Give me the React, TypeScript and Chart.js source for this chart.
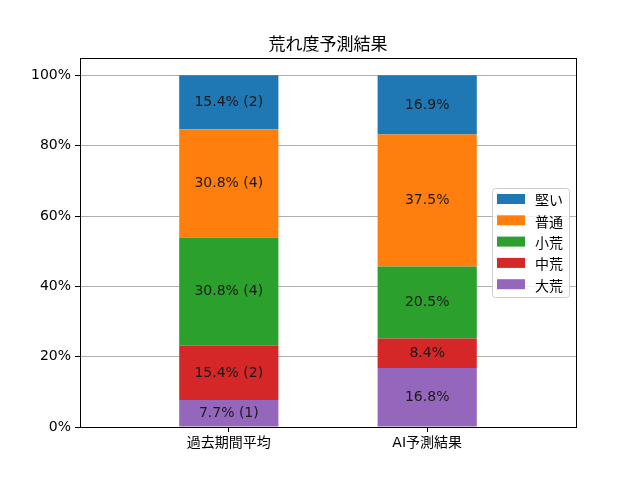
import { Chart, registerables } from 'chart.js';
import { useEffect, useRef } from 'react';

Chart.register(...registerables);

const categories = ['過去期間平均', 'AI予測結果'];
const seriesNames = ['大荒', '中荒', '小荒', '普通', '堅い'];
const seriesColors = ['#9467bd', '#d62728', '#2ca02c', '#ff7f0e', '#1f77b4'];
// percent values per series, [past, AI]
const daiare = [7.7, 16.8];
const chuare = [15.4, 8.4];
const shoare = [30.8, 20.5];
const futsu = [30.8, 37.5];
const katai = [15.4, 16.9];
const seriesValues = [daiare, chuare, shoare, futsu, katai];
const segmentLabels = [
    ['7.7% (1)', '16.8%'],
    ['15.4% (2)', '8.4%'],
    ['30.8% (4)', '20.5%'],
    ['30.8% (4)', '37.5%'],
    ['15.4% (2)', '16.9%'],
];
const yTicks = [0, 20, 40, 60, 80, 100];
const title = '荒れ度予測結果';

const FONT = '"DejaVu Sans", "Noto Sans CJK JP", sans-serif';

const framePlugin = {
    id: 'frame',
    afterDatasetsDraw(chart: Chart) {
        const ctx = chart.ctx;
        // segment labels
        ctx.save();
        ctx.font = `14px ${FONT}`;
        ctx.fillStyle = '#1a1a1a';
        ctx.textAlign = 'center';
        ctx.textBaseline = 'middle';
        chart.data.datasets.forEach((_, di) => {
            const meta = chart.getDatasetMeta(di);
            meta.data.forEach((el: any, i: number) => {
                const y = (el.y + el.base) / 2;
                ctx.fillText(segmentLabels[di][i], el.x, y);
            });
        });
        ctx.restore();
    },
    afterDraw(chart: Chart) {
        const ctx = chart.ctx;
        const a = chart.chartArea;
        ctx.save();
        // axes frame
        ctx.strokeStyle = '#000';
        ctx.lineWidth = 1;
        ctx.strokeRect(Math.round(a.left) + 0.5, Math.round(a.top) + 0.5, Math.round(a.right - a.left), Math.round(a.bottom - a.top));
        // title
        ctx.fillStyle = '#000';
        ctx.font = `17px "Noto Sans CJK JP", sans-serif`;
        ctx.textAlign = 'center';
        ctx.textBaseline = 'alphabetic';
        ctx.fillText(title, (a.left + a.right) / 2, a.top - 8);
        // legend
        const w = 77;
        const rowH = 21.3;
        const h = 109;
        const x0 = a.right - 7 - w;
        const y0 = (a.top + a.bottom) / 2 - h / 2;
        ctx.fillStyle = 'rgba(255,255,255,0.8)';
        ctx.strokeStyle = '#cccccc';
        ctx.beginPath();
        (ctx as any).roundRect(x0 + 0.5, y0 + 0.5, w, h, 3);
        ctx.fill();
        ctx.stroke();
        ctx.font = `14px "Noto Sans CJK JP", sans-serif`;
        ctx.textAlign = 'left';
        ctx.textBaseline = 'middle';
        const order = [4, 3, 2, 1, 0];
        order.forEach((si, r) => {
            const cy = y0 + 11 + r * rowH;
            ctx.fillStyle = seriesColors[si];
            ctx.fillRect(x0 + 5, cy - 5, 28, 10);
            ctx.fillStyle = '#000';
            ctx.fillText(seriesNames[si], x0 + 43, cy + 1);
        });
        ctx.restore();
    },
};

export default function App() {
    const canvasRef = useRef<HTMLCanvasElement>(null);
    const chartRef = useRef<Chart | null>(null);

    useEffect(() => {
        document.body.style.margin = '0';
        if (!canvasRef.current) return;
        const ctx = canvasRef.current.getContext('2d');
        if (!ctx) return;
        if (chartRef.current) chartRef.current.destroy();

        chartRef.current = new Chart(ctx, {
            type: 'bar',
            data: {
                datasets: seriesNames.map((name, si) => ({
                    label: name,
                    data: seriesValues[si].map((v, i) => ({ x: i, y: v })),
                    backgroundColor: seriesColors[si],
                    borderWidth: 0,
                    categoryPercentage: 1,
                    barPercentage: 0.5,
                })),
            },
            options: {
                animation: false,
                responsive: true,
                maintainAspectRatio: false,
                layout: { padding: { top: 58, right: 64, left: 0, bottom: 0 } },
                plugins: {
                    legend: { display: false },
                    title: { display: false },
                    tooltip: { enabled: false },
                },
                scales: {
                    x: {
                        type: 'linear',
                        stacked: true,
                        offset: false,
                        min: -0.75,
                        max: 1.75,
                        afterBuildTicks: (scale: any) => {
                            scale.ticks = categories.map((_, i) => ({ value: i }));
                        },
                        afterFit: (scale: any) => { scale.height = 53; },
                        ticks: {
                            callback: (v: any) => categories[v as number] ?? '',
                            color: '#000',
                            font: { family: FONT, size: 14 },
                            padding: 3,
                            maxRotation: 0,
                        },
                        grid: {
                            offset: false,
                            drawOnChartArea: false,
                            drawTicks: true,
                            tickLength: 5,
                            tickColor: '#000',
                        },
                        border: { color: '#000' },
                    },
                    y: {
                        stacked: true,
                        min: 0,
                        max: 105,
                        afterBuildTicks: (scale: any) => {
                            scale.ticks = yTicks.map((v) => ({ value: v }));
                        },
                        afterFit: (scale: any) => { scale.width = 80; },
                        ticks: {
                            callback: (v: any) => `${v}%`,
                            color: '#000',
                            font: { family: FONT, size: 14 },
                            padding: 4,
                        },
                        grid: {
                            color: '#b0b0b0',
                            lineWidth: 1,
                            tickLength: 5,
                            tickColor: '#000',
                        },
                        border: { color: '#000' },
                    },
                },
            },
            plugins: [framePlugin],
        });

        return () => {
            if (chartRef.current) {
                chartRef.current.destroy();
                chartRef.current = null;
            }
        };
    }, []);

    return (
        <div style={{ width: 640, height: 480, position: 'relative', background: '#fff' }}>
            <canvas ref={canvasRef} />
        </div>
    );
}
